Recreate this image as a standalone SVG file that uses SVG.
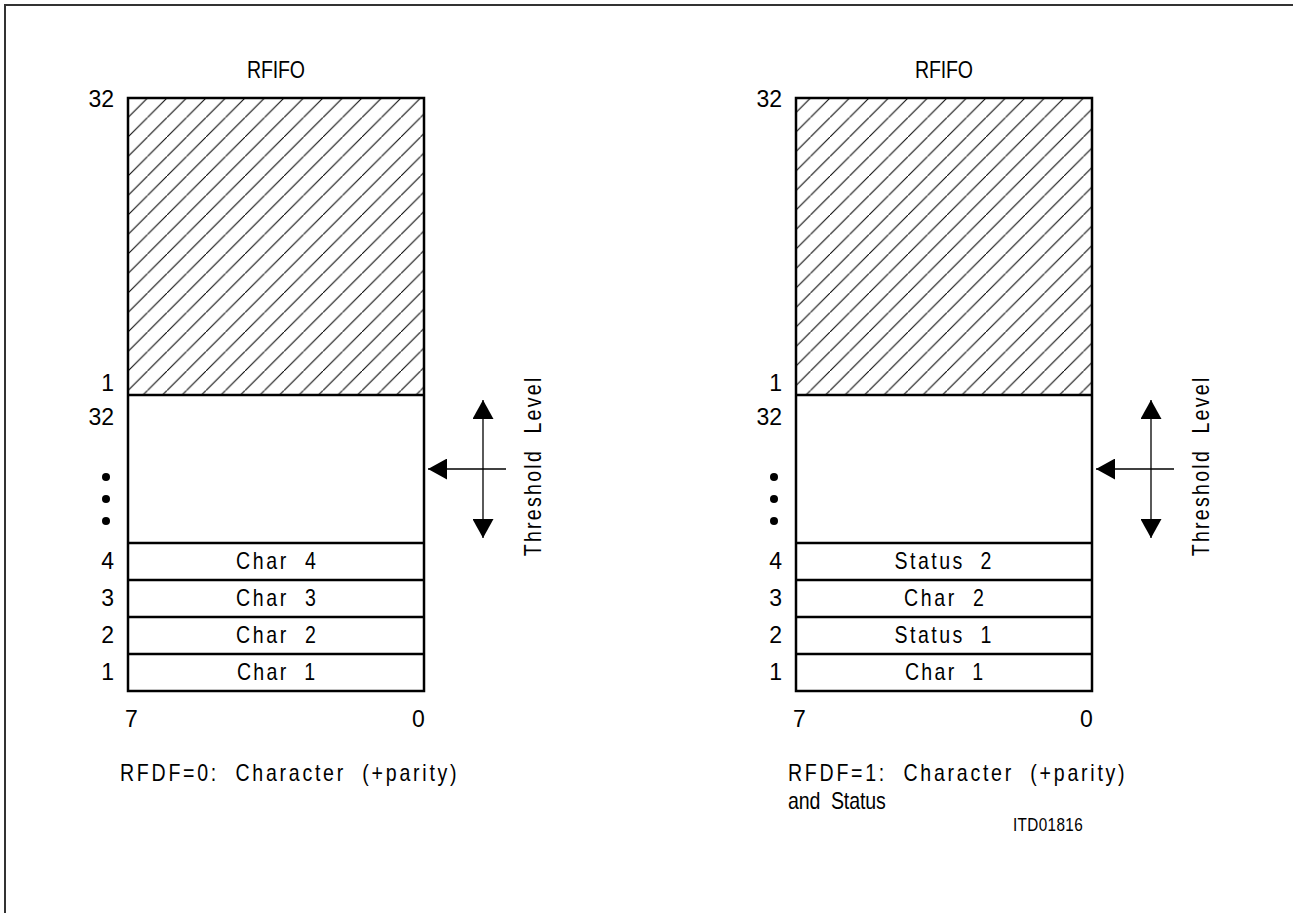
<svg xmlns="http://www.w3.org/2000/svg" width="1293" height="913" viewBox="0 0 1293 913">
  <style>
    .t { font-family: "Liberation Sans", Arial, sans-serif; font-size: 23px; fill: #000; white-space: pre; }
    .c { text-anchor: middle; }
    .r { text-anchor: end; }
    .small { font-size: 18px; }
    .box { fill: none; stroke: #000; stroke-width: 2.5; }
    .row { stroke: #000; stroke-width: 2.5; }
    .conn { stroke: #000; stroke-width: 1.3; fill: none; }
    .border { stroke: #333; stroke-width: 2; fill: none; }
    .dot { fill: #000; }
  </style>
  <defs>
    <pattern id="hatch" patternUnits="userSpaceOnUse" width="19.5" height="19.5" x="128" y="98">
      <line x1="-1" y1="20.5" x2="20.5" y2="-1" stroke="#000" stroke-width="1"/>
    </pattern>
    <marker id="ah" markerUnits="userSpaceOnUse" viewBox="0 0 19 21" refX="19" refY="10.5" markerWidth="19" markerHeight="21" orient="auto-start-reverse">
      <path d="M0,0 L19,10.5 L0,21 z" fill="#000"/>
    </marker>
  </defs>
  <rect width="1293" height="913" fill="#fff"/>
  <g id="frame">
    <polyline class="border" points="5,913 5,5 1293,5"/>
  </g>

  <!-- Left panel -->
  <g id="left-rfifo">
    <text class="t c" transform="translate(276,78) scale(0.85,1)" textLength="68" lengthAdjust="spacing">RFIFO</text>
    <rect x="128" y="98" width="296" height="297" fill="url(#hatch)"/>
    <rect class="box" x="128" y="98" width="296" height="593"/>
    <line class="row" x1="128" y1="395" x2="424" y2="395"/>
    <line class="row" x1="128" y1="543" x2="424" y2="543"/>
    <line class="row" x1="128" y1="580" x2="424" y2="580"/>
    <line class="row" x1="128" y1="617" x2="424" y2="617"/>
    <line class="row" x1="128" y1="654" x2="424" y2="654"/>
    <text class="t r" x="114" y="107">32</text>
    <text class="t r" x="114" y="391">1</text>
    <text class="t r" x="114" y="425">32</text>
    <circle class="dot" cx="106" cy="477" r="4"/>
    <circle class="dot" cx="106" cy="499" r="4"/>
    <circle class="dot" cx="106" cy="521" r="4"/>
    <text class="t r" x="114" y="569">4</text>
    <text class="t r" x="114" y="606">3</text>
    <text class="t r" x="114" y="643">2</text>
    <text class="t r" x="114" y="680">1</text>
    <text class="t c" transform="translate(276,569) scale(0.85,1)" textLength="94" lengthAdjust="spacing">Char  4</text>
    <text class="t c" transform="translate(276,606) scale(0.85,1)" textLength="94" lengthAdjust="spacing">Char  3</text>
    <text class="t c" transform="translate(276,643) scale(0.85,1)" textLength="94" lengthAdjust="spacing">Char  2</text>
    <text class="t c" transform="translate(276,680) scale(0.85,1)" textLength="92" lengthAdjust="spacing">Char  1</text>
    <text class="t" x="125" y="727">7</text>
    <text class="t" x="412" y="727">0</text>
    <text class="t" transform="translate(120,781) scale(0.85,1)" textLength="396" lengthAdjust="spacing">RFDF=0:  Character  (+parity)</text>
  </g>

  <!-- Right panel -->
  <g id="right-rfifo">
    <text class="t c" transform="translate(944,78) scale(0.85,1)" textLength="68" lengthAdjust="spacing">RFIFO</text>
    <rect x="796" y="98" width="296" height="297" fill="url(#hatch)"/>
    <rect class="box" x="796" y="98" width="296" height="593"/>
    <line class="row" x1="796" y1="395" x2="1092" y2="395"/>
    <line class="row" x1="796" y1="543" x2="1092" y2="543"/>
    <line class="row" x1="796" y1="580" x2="1092" y2="580"/>
    <line class="row" x1="796" y1="617" x2="1092" y2="617"/>
    <line class="row" x1="796" y1="654" x2="1092" y2="654"/>
    <text class="t r" x="782" y="107">32</text>
    <text class="t r" x="782" y="391">1</text>
    <text class="t r" x="782" y="425">32</text>
    <circle class="dot" cx="774" cy="477" r="4"/>
    <circle class="dot" cx="774" cy="499" r="4"/>
    <circle class="dot" cx="774" cy="521" r="4"/>
    <text class="t r" x="782" y="569">4</text>
    <text class="t r" x="782" y="606">3</text>
    <text class="t r" x="782" y="643">2</text>
    <text class="t r" x="782" y="680">1</text>
    <text class="t c" transform="translate(943,569) scale(0.85,1)" textLength="114" lengthAdjust="spacing">Status  2</text>
    <text class="t c" transform="translate(944,606) scale(0.85,1)" textLength="94" lengthAdjust="spacing">Char  2</text>
    <text class="t c" transform="translate(943,643) scale(0.85,1)" textLength="114" lengthAdjust="spacing">Status  1</text>
    <text class="t c" transform="translate(944,680) scale(0.85,1)" textLength="92" lengthAdjust="spacing">Char  1</text>
    <text class="t" x="793" y="727">7</text>
    <text class="t" x="1080" y="727">0</text>
    <text class="t" transform="translate(788,781) scale(0.85,1)" textLength="396" lengthAdjust="spacing">RFDF=1:  Character  (+parity)</text>
    <text class="t" transform="translate(788,809) scale(0.85,1)" textLength="115" lengthAdjust="spacing">and  Status</text>
    <text class="t small" transform="translate(1013,831) scale(0.85,1)" textLength="82" lengthAdjust="spacing">ITD01816</text>
  </g>

  <g id="left-threshold">
    <text class="t c" transform="translate(541,467) rotate(-90) scale(0.85,1)" textLength="210" lengthAdjust="spacing">Threshold  Level</text>
  </g>
  <g id="right-threshold">
    <text class="t c" transform="translate(1209,467) rotate(-90) scale(0.85,1)" textLength="210" lengthAdjust="spacing">Threshold  Level</text>
  </g>

  <g id="connectors">
    <line class="conn" x1="506" y1="469" x2="428" y2="469" marker-end="url(#ah)"/>
    <line class="conn" x1="483" y1="538" x2="483" y2="400" marker-start="url(#ah)" marker-end="url(#ah)"/>
    <line class="conn" x1="1174" y1="469" x2="1096" y2="469" marker-end="url(#ah)"/>
    <line class="conn" x1="1151" y1="538" x2="1151" y2="400" marker-start="url(#ah)" marker-end="url(#ah)"/>
  </g>
</svg>
